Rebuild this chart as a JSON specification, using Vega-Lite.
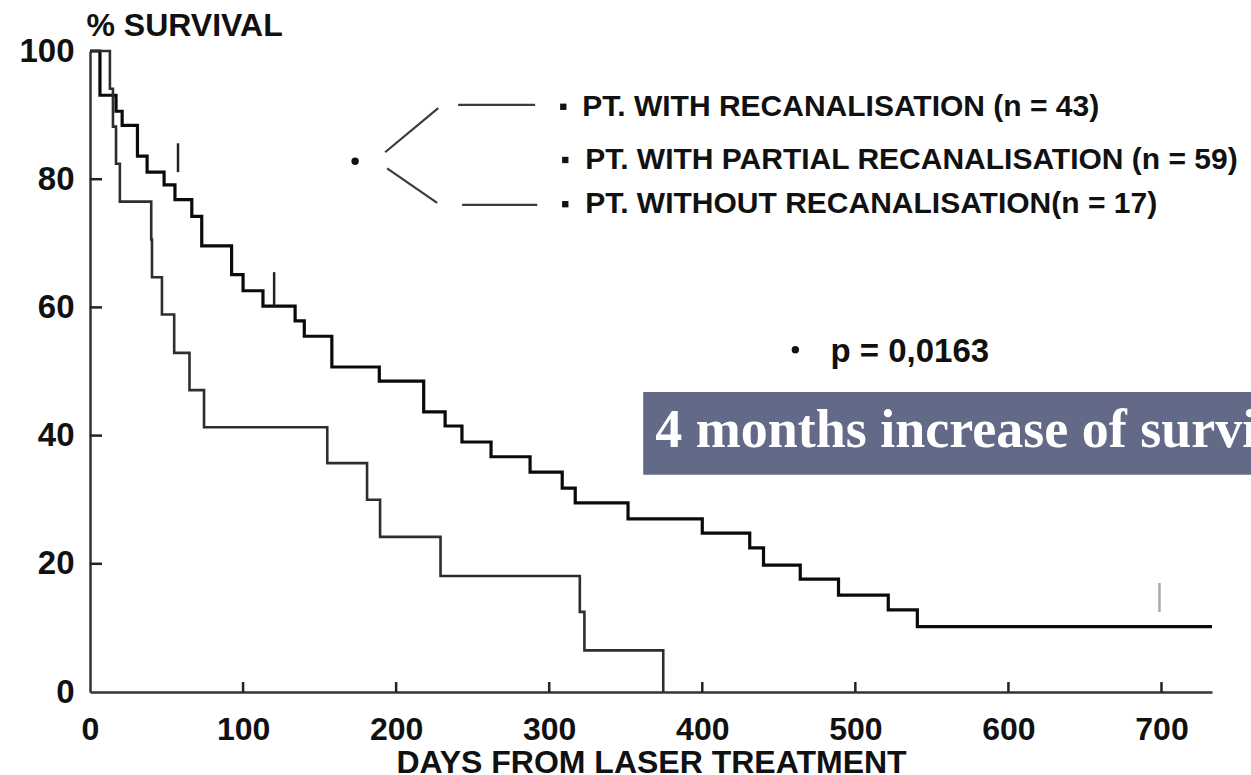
{
  "$schema": "https://vega.github.io/schema/vega-lite/v6.json",
  "width": 1122,
  "height": 641,
  "autosize": "none",
  "padding": {"left": 90, "top": 51, "right": 39, "bottom": 83},
  "background": "white",
  "config": {"view": {"stroke": null}, "font": "Liberation Sans"},
  "resolve": {"axis": {"x": "independent", "y": "independent"}},
  "datasets": {
    "curves": [
      {"group": "with", "day": 0, "pct": 100},
      {"group": "with", "day": 6.5, "pct": 93.1},
      {"group": "with", "day": 17, "pct": 90.6},
      {"group": "with", "day": 21, "pct": 88.4},
      {"group": "with", "day": 31, "pct": 83.6},
      {"group": "with", "day": 37.3, "pct": 81.1},
      {"group": "with", "day": 48.4, "pct": 79.1},
      {"group": "with", "day": 55.5, "pct": 76.8},
      {"group": "with", "day": 66.5, "pct": 74.2},
      {"group": "with", "day": 73, "pct": 69.6},
      {"group": "with", "day": 92.5, "pct": 65.1},
      {"group": "with", "day": 100, "pct": 62.6},
      {"group": "with", "day": 113, "pct": 60.2},
      {"group": "with", "day": 134, "pct": 57.9},
      {"group": "with", "day": 140, "pct": 55.5},
      {"group": "with", "day": 158, "pct": 50.7},
      {"group": "with", "day": 189, "pct": 48.5},
      {"group": "with", "day": 218, "pct": 43.7},
      {"group": "with", "day": 232, "pct": 41.5},
      {"group": "with", "day": 243, "pct": 39.0},
      {"group": "with", "day": 262, "pct": 36.7},
      {"group": "with", "day": 287.5, "pct": 34.3},
      {"group": "with", "day": 308.5, "pct": 31.8},
      {"group": "with", "day": 317, "pct": 29.5},
      {"group": "with", "day": 351.5, "pct": 27.0},
      {"group": "with", "day": 400, "pct": 24.8},
      {"group": "with", "day": 431, "pct": 22.5},
      {"group": "with", "day": 440, "pct": 19.8},
      {"group": "with", "day": 464, "pct": 17.6},
      {"group": "with", "day": 489, "pct": 15.1},
      {"group": "with", "day": 521.5, "pct": 12.8},
      {"group": "with", "day": 540.5, "pct": 10.2},
      {"group": "with", "day": 733, "pct": 10.2},
      {"group": "without", "day": 0, "pct": 100},
      {"group": "without", "day": 13, "pct": 94.1},
      {"group": "without", "day": 15, "pct": 88.2},
      {"group": "without", "day": 17, "pct": 82.4},
      {"group": "without", "day": 19.5, "pct": 76.5},
      {"group": "without", "day": 40, "pct": 70.6},
      {"group": "without", "day": 40.5, "pct": 64.7},
      {"group": "without", "day": 47, "pct": 58.9},
      {"group": "without", "day": 55, "pct": 52.9},
      {"group": "without", "day": 65, "pct": 47.1},
      {"group": "without", "day": 74.5, "pct": 41.3},
      {"group": "without", "day": 155, "pct": 35.7},
      {"group": "without", "day": 181, "pct": 30.0},
      {"group": "without", "day": 189.5, "pct": 24.2},
      {"group": "without", "day": 229, "pct": 18.1},
      {"group": "without", "day": 320, "pct": 12.5},
      {"group": "without", "day": 323, "pct": 6.5},
      {"group": "without", "day": 374.5, "pct": 0}
    ],
    "xTicks": [
      {"day": 100, "pct": 0}, {"day": 200, "pct": 0}, {"day": 300, "pct": 0},
      {"day": 400, "pct": 0}, {"day": 500, "pct": 0}, {"day": 600, "pct": 0}, {"day": 700, "pct": 0}
    ],
    "yTicks": [
      {"day": 0, "pct": 20}, {"day": 0, "pct": 40}, {"day": 0, "pct": 60}, {"day": 0, "pct": 80}
    ],
    "censor": [
      {"day": 57.5, "top": 85.6, "bottom": 81.1},
      {"day": 120.3, "top": 65.5, "bottom": 60.2},
      {"day": 698.7, "top": 17.0, "bottom": 12.5}
    ],
    "segments": [
      {"day": 192.8, "pct": 84.2, "day2": 227.5, "pct2": 91.1},
      {"day": 194.1, "pct": 81.7, "day2": 226.8, "pct2": 76.3},
      {"day": 240.5, "pct": 91.6, "day2": 290.8, "pct2": 91.6},
      {"day": 243.1, "pct": 76.0, "day2": 292.2, "pct2": 76.0}
    ],
    "squares": [
      {"day": 309.2, "pct": 91.3},
      {"day": 310.5, "pct": 83.0},
      {"day": 310.5, "pct": 76.1}
    ],
    "dots": [
      {"day": 173.2, "pct": 82.8},
      {"day": 460.8, "pct": 53.4}
    ],
    "legendText": [
      {"day": 321.6, "pct": 91.3, "label": "PT. WITH RECANALISATION (n = 43)"},
      {"day": 323.5, "pct": 83.0, "label": "PT. WITH PARTIAL RECANALISATION (n = 59)"},
      {"day": 323.5, "pct": 76.1, "label": "PT. WITHOUT RECANALISATION(n = 17)"}
    ],
    "pText": [
      {"day": 483.7, "pct": 53.0, "label": "p = 0,0163"}
    ],
    "box": [
      {"day": 361.4, "day2": 800, "pct": 33.9, "pct2": 46.8}
    ],
    "boxText": [
      {"day": 369.3, "pct": 38.2, "label": "4 months increase of survival"}
    ]
  },
  "layer": [
    {
      "data": {"name": "curves"},
      "mark": {"type": "line", "interpolate": "step-after"},
      "encoding": {
        "x": {
          "field": "day", "type": "quantitative",
          "scale": {"domain": [0, 733], "nice": false, "zero": false},
          "axis": {
            "values": [0, 100, 200, 300, 400, 500, 600, 700],
            "title": "DAYS FROM LASER TREATMENT",
            "titleFont": "Liberation Sans", "titleFontSize": 32, "titleFontWeight": "bold", "titleColor": "#111",
            "titleY": 80, "titleBaseline": "alphabetic",
            "labelFont": "Liberation Sans", "labelFontSize": 32, "labelFontWeight": "bold", "labelColor": "#111",
            "labelBaseline": "alphabetic", "labelPadding": 47, "labelFlush": false, "labelOverlap": false,
            "ticks": false,
            "domainColor": "#333", "domainWidth": 2.5, "grid": false
          }
        },
        "y": {
          "field": "pct", "type": "quantitative",
          "scale": {"domain": [0, 100], "nice": false, "zero": false},
          "axis": {
            "values": [0, 20, 40, 60, 80, 100],
            "title": "% SURVIVAL",
            "titleFont": "Liberation Sans", "titleFontSize": 32, "titleFontWeight": "bold", "titleColor": "#111",
            "titleAngle": 0, "titleAlign": "left", "titleBaseline": "alphabetic", "titleX": -4, "titleY": -16,
            "labelFont": "Liberation Sans", "labelFontSize": 33, "labelFontWeight": "bold", "labelColor": "#111",
            "labelBaseline": "middle", "labelPadding": 16, "labelFlush": false, "labelOverlap": false,
            "ticks": false,
            "domainColor": "#333", "domainWidth": 2.5, "grid": false
          }
        },
        "color": {"field": "group", "type": "nominal", "scale": {"domain": ["with", "without"], "range": ["#0a0a0a", "#2e2e2e"]}, "legend": null},
        "strokeWidth": {"field": "group", "type": "nominal", "scale": {"domain": ["with", "without"], "range": [3.2, 2.6]}, "legend": null}
      }
    },
    {
      "data": {"name": "xTicks"},
      "mark": {"type": "tick", "orient": "vertical", "size": 10, "thickness": 2.5, "yOffset": -5, "color": "#222", "opacity": 1},
      "encoding": {
        "x": {"field": "day", "type": "quantitative", "scale": {"domain": [0, 733], "nice": false, "zero": false}, "axis": null},
        "y": {"field": "pct", "type": "quantitative", "scale": {"domain": [0, 100], "nice": false, "zero": false}, "axis": null}
      }
    },
    {
      "data": {"name": "yTicks"},
      "mark": {"type": "tick", "orient": "horizontal", "size": 12, "thickness": 2.5, "xOffset": 6, "color": "#222", "opacity": 1},
      "encoding": {
        "x": {"field": "day", "type": "quantitative", "scale": {"domain": [0, 733], "nice": false, "zero": false}, "axis": null},
        "y": {"field": "pct", "type": "quantitative", "scale": {"domain": [0, 100], "nice": false, "zero": false}, "axis": null}
      }
    },
    {
      "data": {"name": "box"},
      "mark": {"type": "rect", "color": "#636a87"},
      "encoding": {
        "x": {"field": "day", "type": "quantitative", "scale": {"domain": [0, 733], "nice": false, "zero": false}, "axis": null},
        "x2": {"field": "day2"},
        "y": {"field": "pct", "type": "quantitative", "scale": {"domain": [0, 100], "nice": false, "zero": false}, "axis": null},
        "y2": {"field": "pct2"}
      }
    },
    {
      "data": {"name": "boxText"},
      "mark": {"type": "text", "font": "Liberation Serif", "fontWeight": "bold", "fontSize": 54, "color": "white", "align": "left", "baseline": "alphabetic"},
      "encoding": {
        "x": {"field": "day", "type": "quantitative", "scale": {"domain": [0, 733], "nice": false, "zero": false}, "axis": null},
        "y": {"field": "pct", "type": "quantitative", "scale": {"domain": [0, 100], "nice": false, "zero": false}, "axis": null},
        "text": {"field": "label"}
      }
    },
    {
      "data": {"name": "censor"},
      "mark": {"type": "rule", "strokeWidth": 2.5},
      "encoding": {
        "x": {"field": "day", "type": "quantitative", "scale": {"domain": [0, 733], "nice": false, "zero": false}, "axis": null},
        "y": {"field": "top", "type": "quantitative", "scale": {"domain": [0, 100], "nice": false, "zero": false}, "axis": null},
        "y2": {"field": "bottom"},
        "color": {"condition": {"test": "datum.day > 600", "value": "#aaaaaa"}, "value": "#222222"}
      }
    },
    {
      "data": {"name": "segments"},
      "mark": {"type": "rule", "strokeWidth": 2.2, "color": "#3a3a3a"},
      "encoding": {
        "x": {"field": "day", "type": "quantitative", "scale": {"domain": [0, 733], "nice": false, "zero": false}, "axis": null},
        "x2": {"field": "day2"},
        "y": {"field": "pct", "type": "quantitative", "scale": {"domain": [0, 100], "nice": false, "zero": false}, "axis": null},
        "y2": {"field": "pct2"}
      }
    },
    {
      "data": {"name": "squares"},
      "mark": {"type": "point", "shape": "square", "filled": true, "size": 40, "color": "#111", "opacity": 1},
      "encoding": {
        "x": {"field": "day", "type": "quantitative", "scale": {"domain": [0, 733], "nice": false, "zero": false}, "axis": null},
        "y": {"field": "pct", "type": "quantitative", "scale": {"domain": [0, 100], "nice": false, "zero": false}, "axis": null}
      }
    },
    {
      "data": {"name": "dots"},
      "mark": {"type": "point", "shape": "circle", "filled": true, "size": 55, "color": "#111", "opacity": 1},
      "encoding": {
        "x": {"field": "day", "type": "quantitative", "scale": {"domain": [0, 733], "nice": false, "zero": false}, "axis": null},
        "y": {"field": "pct", "type": "quantitative", "scale": {"domain": [0, 100], "nice": false, "zero": false}, "axis": null}
      }
    },
    {
      "data": {"name": "legendText"},
      "mark": {"type": "text", "font": "Liberation Sans", "fontWeight": "bold", "fontSize": 30, "color": "#111", "align": "left", "baseline": "middle"},
      "encoding": {
        "x": {"field": "day", "type": "quantitative", "scale": {"domain": [0, 733], "nice": false, "zero": false}, "axis": null},
        "y": {"field": "pct", "type": "quantitative", "scale": {"domain": [0, 100], "nice": false, "zero": false}, "axis": null},
        "text": {"field": "label"}
      }
    },
    {
      "data": {"name": "pText"},
      "mark": {"type": "text", "font": "Liberation Sans", "fontWeight": "bold", "fontSize": 33, "color": "#111", "align": "left", "baseline": "middle"},
      "encoding": {
        "x": {"field": "day", "type": "quantitative", "scale": {"domain": [0, 733], "nice": false, "zero": false}, "axis": null},
        "y": {"field": "pct", "type": "quantitative", "scale": {"domain": [0, 100], "nice": false, "zero": false}, "axis": null},
        "text": {"field": "label"}
      }
    }
  ]
}
